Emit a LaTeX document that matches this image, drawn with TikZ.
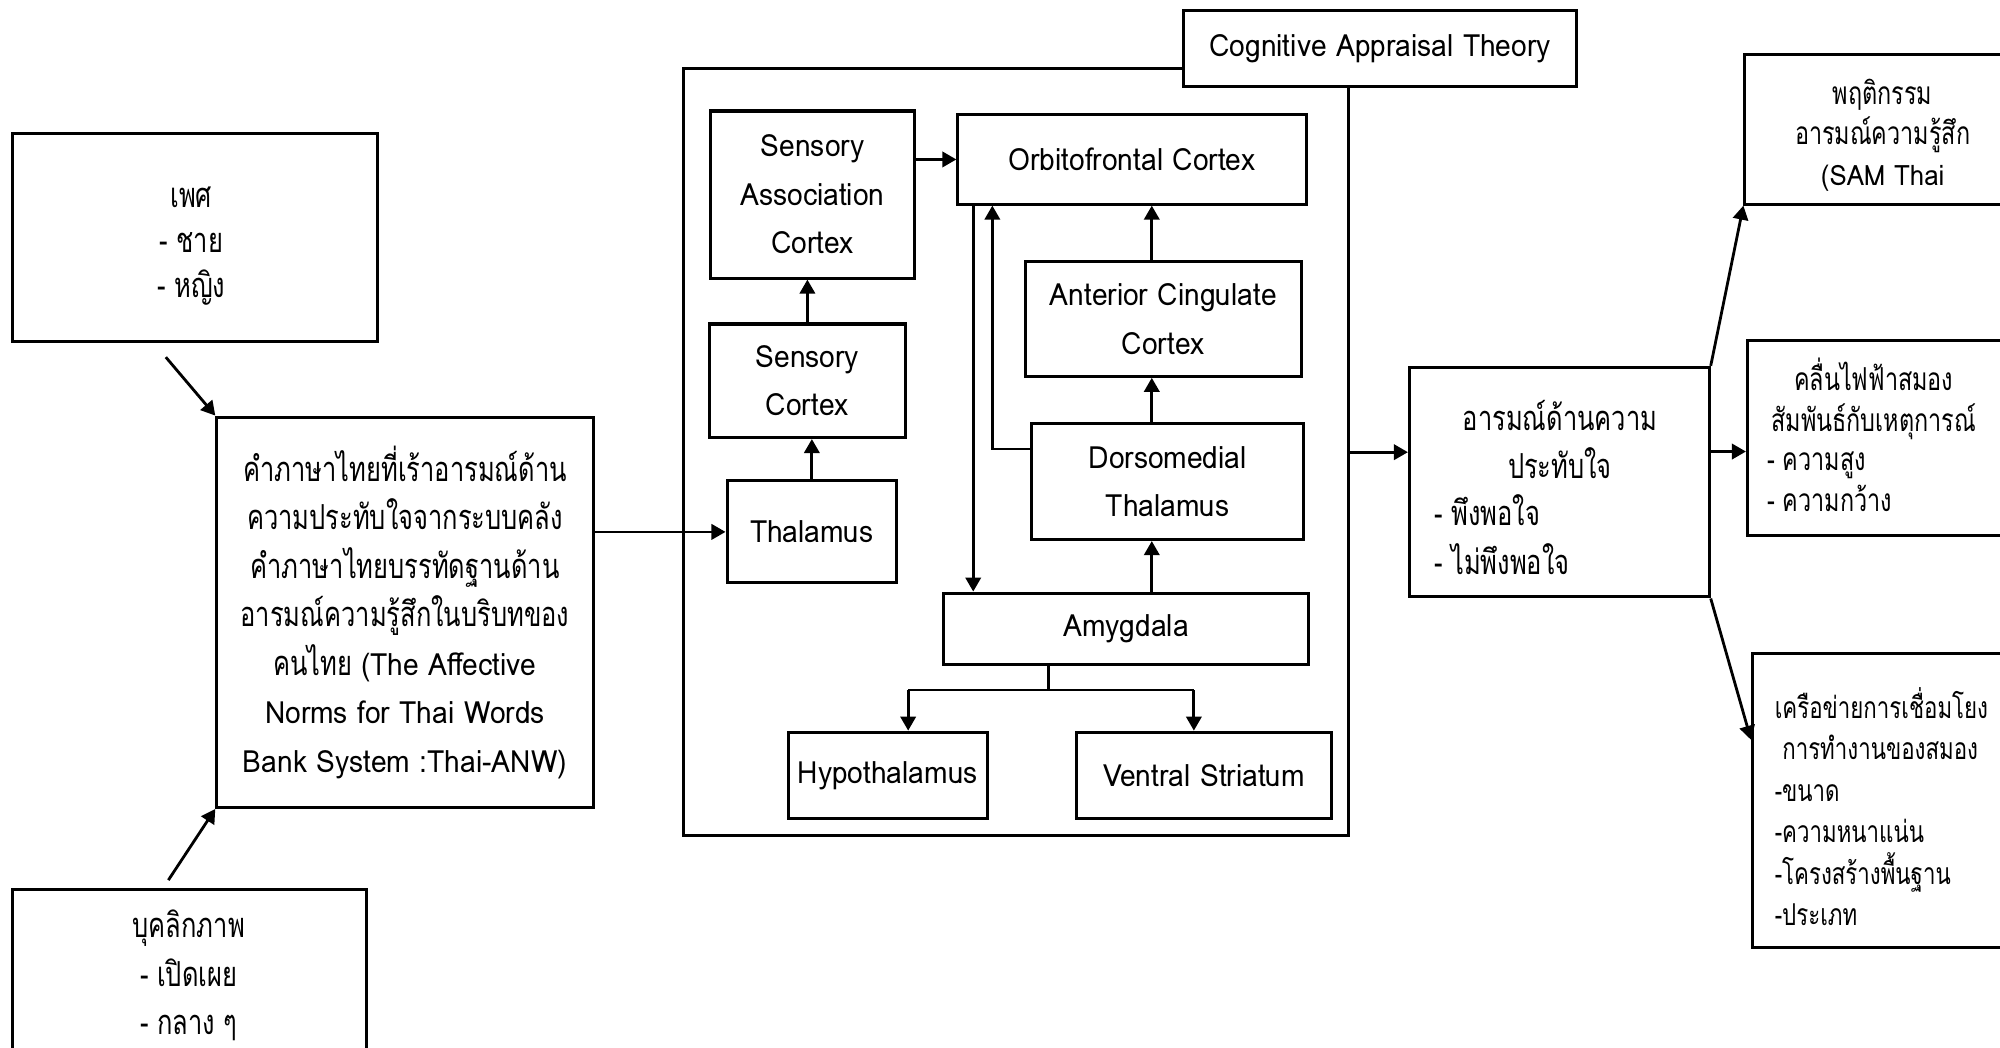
\documentclass[tikz,border=0pt]{standalone}
\usepackage{fontspec}
\setmainfont{Loma}[Script=Thai, FakeStretch=0.74]
\newfontfamily\en{Loma}[FakeStretch=0.92]
\usetikzlibrary{arrows.meta}
% Thai text sizes (tall, narrow) and Latin text size
\newcommand\txt{\fontsize{13.5}{19}\selectfont}
\newcommand\txg{\fontsize{13.5}{17.75}\selectfont}
\newcommand\txs{\fontsize{12.4}{16}\selectfont}
\newcommand\txn{\fontsize{11.8}{16.25}\selectfont}
\newcommand\ent{\fontsize{12}{19}\selectfont\en}
\begin{document}
\begin{tikzpicture}[x=0.5pt,y=-0.5pt,
  box/.style={draw, line width=1.2pt, fill=white, inner sep=0pt, align=center, font=\txt},
  ebox/.style={box, font=\ent},
  lbl/.style={inner sep=0pt, align=center, font=\txt},
  lbs/.style={inner sep=0pt, align=left, font=\txs},
  arr/.style={-{Triangle[length=5.5pt,width=6pt]}, line width=1.1pt},
  ln/.style={line width=1pt}]
\useasboundingbox (0,0) rectangle (1568,821);
\clip (0,0) rectangle (1568,821);

% left column
\node[box, minimum width=143pt, minimum height=81.5pt] (sex) at (153,186.5) {};
\node[lbl, font=\txg] (sexT) at (150,193) {เพศ\\- ชาย\\- หญิง};
\node[box, minimum width=147.5pt, minimum height=153pt] (main) at (317.5,480)
  {คำภาษาไทยที่เร้าอารมณ์ด้าน\\ความประทับใจจากระบบคลัง\\คำภาษาไทยบรรทัดฐานด้าน\\อารมณ์ความรู้สึกในบริบทของ\\คนไทย {\ent(The Affective}\\{\ent Norms for Thai Words}\\{\ent Bank System :Thai-ANW)}};
\node[box, minimum width=138.5pt, minimum height=81.5pt] (pers) at (148.5,778.5) {};
\node[lbl] (persT) at (148,765) {บุคลิกภาพ\\- เปิดเผย\\- กลาง ๆ};

\coordinate (sexOut) at (130,280);
\coordinate (persOut) at (132,690);
\draw[arr] (sexOut) -- (main.north west);
\draw[arr] (persOut) -- (main.south west);

% brain frame
\node[draw, line width=1.2pt, minimum width=260.5pt, minimum height=300.5pt, inner sep=0pt] (frame) at (796.5,354.5) {};
\node[ebox, minimum width=154pt, minimum height=30pt] (cat) at (1082,38) {Cognitive Appraisal Theory};

\node[ebox, minimum width=80pt, minimum height=65.5pt] (sac) at (637,152.5) {Sensory\\Association\\Cortex};
\node[ebox, minimum width=136.5pt, minimum height=35pt] (ofc) at (887.5,125) {Orbitofrontal Cortex};
\node[ebox, minimum width=77pt, minimum height=44.5pt] (sc) at (633,298.5) {Sensory\\Cortex};
\node[ebox, minimum width=66.5pt, minimum height=40pt] (thal) at (636.5,417) {Thalamus};
\node[ebox, minimum width=108pt, minimum height=45pt] (acc) at (912,250) {Anterior Cingulate\\Cortex};
\node[ebox, minimum width=106.5pt, minimum height=45.5pt] (dmt) at (915.5,377.5) {Dorsomedial\\Thalamus};
\node[ebox, minimum width=143pt, minimum height=28pt] (amy) at (883,493) {Amygdala};
\node[ebox, minimum width=78pt, minimum height=34pt] (hypo) at (696,608) {Hypothalamus};
\node[ebox, minimum width=100pt, minimum height=34pt] (vs) at (944,608) {Ventral Striatum};

\draw[arr] (main.east |- thal.west) -- (thal.west);
\draw[arr] (thal.north) -- (thal.north |- sc.south);
\draw[arr] (sc.north) -- (sc.north |- sac.south);
\draw[arr] (sac.east |- ofc.west) -- (ofc.west);

\coordinate (vx) at (903,0);
\draw[arr] (acc.north -| vx) -- (ofc.south -| vx);
\draw[arr] (dmt.north -| vx) -- (acc.south -| vx);
\draw[arr] (amy.north -| vx) -- (dmt.south -| vx);

\coordinate (vd) at (763,0);
\draw[arr] (ofc.south -| vd) -- (amy.north -| vd);
\coordinate (vu) at (778,352);
\draw[arr] (dmt.west |- vu) -- (vu) -- (ofc.south -| vu);

\coordinate (br) at (822,541);
\coordinate (hx) at (712,0);
\coordinate (vsx) at (936,0);
\draw[ln] (amy.south -| br) -- (br);
\draw[ln] (br -| hx) -- (br -| vsx);
\draw[arr] (br -| hx) -- (hypo.north -| hx);
\draw[arr] (br -| vsx) -- (vs.north -| vsx);

% outcome
\node[box, minimum width=117.5pt, minimum height=90pt] (emo) at (1222.5,378) {};
\node[lbl] (emoT) at (1223,344.5) {อารมณ์ด้านความ\\ประทับใจ};
\node[lbl, align=left, anchor=west] (emoL) at (1124,419) {- พึงพอใจ\\- ไม่พึงพอใจ};
\draw[arr] (frame.east) -- (frame.east -| emo.west);

\node[box, minimum width=116pt, minimum height=58.5pt] (beh) at (1484,101.5) {};
\node[lbl, font=\txs] (behT) at (1476,106) {พฤติกรรม\\อารมณ์ความรู้สึก\\{\fontsize{11}{16}\selectfont\en(SAM Thai}};

\node[box, minimum width=115pt, minimum height=76.5pt] (eeg) at (1485,343.5) {};
\node[lbl, font=\txs] (eegT) at (1469,313) {คลื่นไฟฟ้าสมอง\\สัมพันธ์กับเหตุการณ์};
\node[lbs, anchor=west] (eegL) at (1385,377.5) {- ความสูง\\- ความกว้าง};

\node[box, minimum width=113pt, minimum height=115.5pt] (net) at (1487,627.5) {};
\node[lbs, font=\txn, anchor=west] (netT) at (1391,632.5) {เครือข่ายการเชื่อมโยง\\\ การทำงานของสมอง\\-ขนาด\\-ความหนาแน่น\\-โครงสร้างพื้นฐาน\\-ประเภท};

\coordinate (ey) at (0,354);
\coordinate (ny) at (0,580);
\draw[arr] (emo.north east) -- (beh.south west);
\draw[arr] (emo.east |- ey) -- (eeg.west |- ey);
\draw[arr] (emo.south east) -- (net.west |- ny);
\end{tikzpicture}
\end{document}
